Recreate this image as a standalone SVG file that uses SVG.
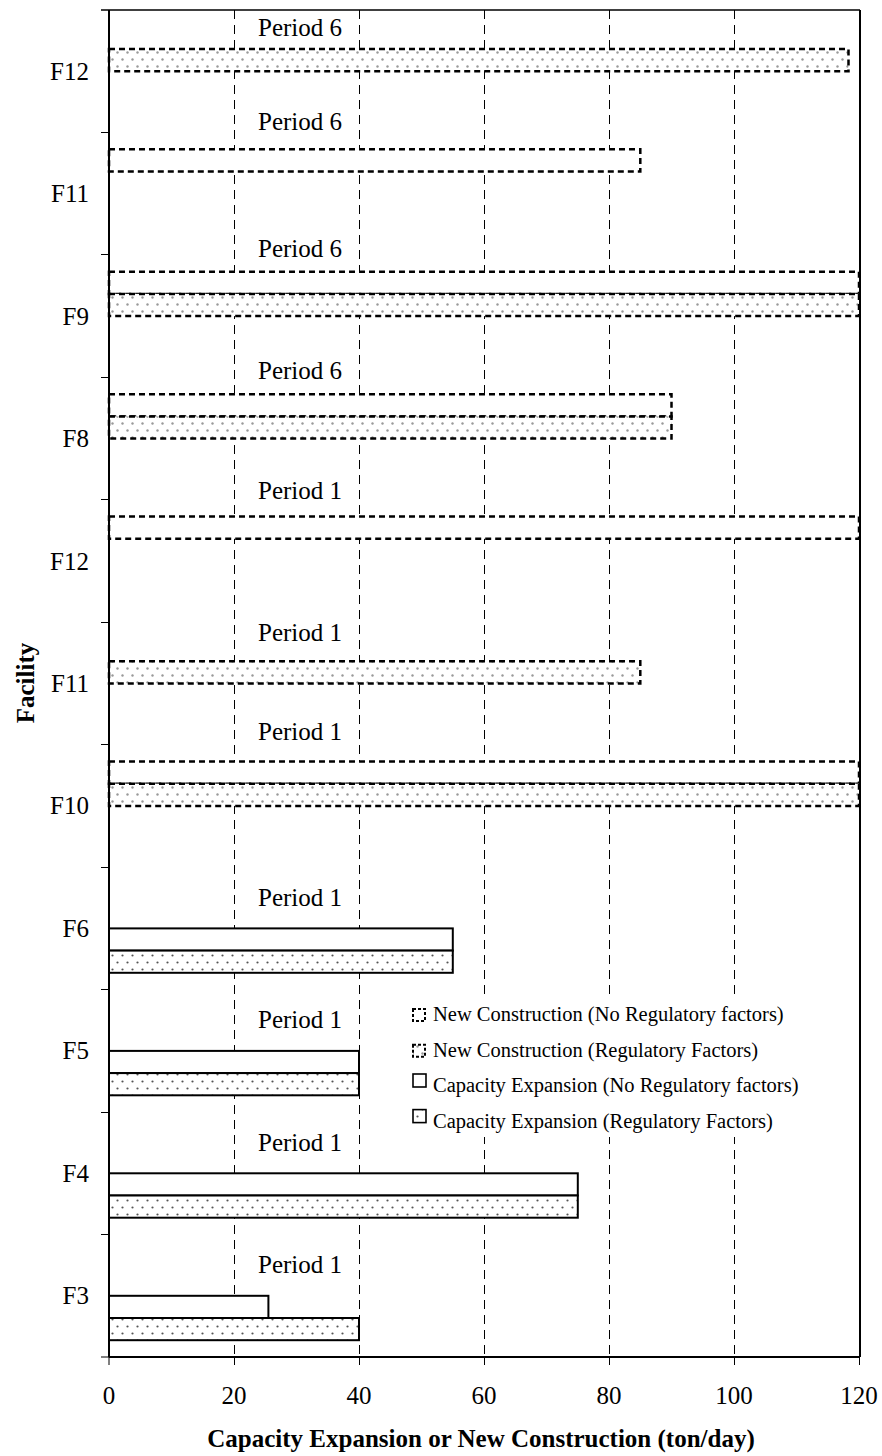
<svg xmlns="http://www.w3.org/2000/svg" width="882" height="1456" viewBox="0 0 882 1456">
<style>
text{font-family:"Liberation Serif","Times New Roman",serif;fill:#000}
.lab{font-size:25px}
.tick{font-size:25px;text-anchor:middle}
.cat{font-size:25px;text-anchor:end}
.leg{font-size:20.5px}
.title{font-size:25px;font-weight:bold}
.grid{stroke:#000;stroke-width:1;stroke-dasharray:9 6;fill:none}
.axis{stroke:#000;stroke-width:2;fill:none}
.tk{stroke:#000;stroke-width:1}
.ncn{fill:#fff;stroke:#000;stroke-width:2.5;stroke-dasharray:6 4}
.ncr{fill:url(#dotsLight);stroke:#000;stroke-width:2.5;stroke-dasharray:6 4}
.cen{fill:#fff;stroke:#000;stroke-width:2}
.cer{fill:url(#dotsDark);stroke:#000;stroke-width:2}
.lncn{fill:#fff;stroke:#000;stroke-width:2;stroke-dasharray:3 2}
.lncr{fill:url(#dotsLight);stroke:#000;stroke-width:2;stroke-dasharray:3 2}
.lcen{fill:#fff;stroke:#000;stroke-width:1.6}
.lcer{fill:url(#dotsDark);stroke:#000;stroke-width:1.6}
</style>
<defs>
<pattern id="dotsLight" patternUnits="userSpaceOnUse" width="10" height="14">
<rect width="10" height="14" fill="#fff"/>
<circle cx="2.5" cy="3.5" r="1.2" fill="#999"/>
<circle cx="7.5" cy="10.5" r="1.2" fill="#999"/>
</pattern>
<pattern id="dotsDark" patternUnits="userSpaceOnUse" width="10" height="14">
<rect width="10" height="14" fill="#fff"/>
<circle cx="2.5" cy="3.5" r="1.1" fill="#555"/>
<circle cx="7.5" cy="10.5" r="1.1" fill="#555"/>
</pattern>
</defs>
<rect width="882" height="1456" fill="#fff"/>

<g id="gridlines">
<line class="grid" x1="234.5" y1="10" x2="234.5" y2="1357"/>
<line class="grid" x1="359.5" y1="10" x2="359.5" y2="1357"/>
<line class="grid" x1="484.5" y1="10" x2="484.5" y2="1357"/>
<line class="grid" x1="609.5" y1="10" x2="609.5" y2="1357"/>
<line class="grid" x1="734.5" y1="10" x2="734.5" y2="1357"/>
</g>

<g id="bars">
<g id="cat-F12-p6">
<rect class="ncr" x="109" y="49" width="739.5" height="22.2"/>
</g>
<g id="cat-F11-p6">
<rect class="ncn" x="109" y="149.3" width="531.3" height="22.2"/>
</g>
<g id="cat-F9-p6">
<rect class="ncn" x="109" y="271.7" width="750" height="22.2"/>
<rect class="ncr" x="109" y="293.9" width="750" height="22.2"/>
</g>
<g id="cat-F8-p6">
<rect class="ncn" x="109" y="394.2" width="562.5" height="22.2"/>
<rect class="ncr" x="109" y="416.4" width="562.5" height="22.2"/>
</g>
<g id="cat-F12-p1">
<rect class="ncn" x="109" y="516.6" width="750" height="22.2"/>
</g>
<g id="cat-F11-p1">
<rect class="ncr" x="109" y="661.3" width="531.3" height="22.2"/>
</g>
<g id="cat-F10-p1">
<rect class="ncn" x="109" y="761.5" width="750" height="22.2"/>
<rect class="ncr" x="109" y="783.7" width="750" height="22.2"/>
</g>
<g id="cat-F6-p1">
<rect class="cen" x="109" y="928.4" width="343.8" height="22.2"/>
<rect class="cer" x="109" y="950.6" width="343.8" height="22.2"/>
</g>
<g id="cat-F5-p1">
<rect class="cen" x="109" y="1050.9" width="250" height="22.2"/>
<rect class="cer" x="109" y="1073.1" width="250" height="22.2"/>
</g>
<g id="cat-F4-p1">
<rect class="cen" x="109" y="1173.3" width="468.8" height="22.2"/>
<rect class="cer" x="109" y="1195.5" width="468.8" height="22.2"/>
</g>
<g id="cat-F3-p1">
<rect class="cen" x="109" y="1295.8" width="159.4" height="22.2"/>
<rect class="cer" x="109" y="1318" width="250" height="22.2"/>
</g>
</g>

<g id="axes">
<line class="axis" x1="109" y1="10" x2="109" y2="1357"/>
<line class="axis" x1="109" y1="1357" x2="860" y2="1357"/>
<line x1="101" y1="10" x2="860" y2="10" stroke="#000" stroke-width="1.5"/>
<line class="axis" x1="860" y1="10" x2="860" y2="1357"/>
<g id="yticks">
<line class="tk" x1="101" y1="132.5" x2="109" y2="132.5"/>
<line class="tk" x1="101" y1="254.5" x2="109" y2="254.5"/>
<line class="tk" x1="101" y1="377.5" x2="109" y2="377.5"/>
<line class="tk" x1="101" y1="499.5" x2="109" y2="499.5"/>
<line class="tk" x1="101" y1="622.5" x2="109" y2="622.5"/>
<line class="tk" x1="101" y1="744.5" x2="109" y2="744.5"/>
<line class="tk" x1="101" y1="867.5" x2="109" y2="867.5"/>
<line class="tk" x1="101" y1="989.5" x2="109" y2="989.5"/>
<line class="tk" x1="101" y1="1112.5" x2="109" y2="1112.5"/>
<line class="tk" x1="101" y1="1234.5" x2="109" y2="1234.5"/>
<line class="tk" x1="101" y1="1357" x2="109" y2="1357"/>
</g>
<g id="xticks">
<line class="tk" x1="109" y1="1357" x2="109" y2="1365"/>
<line class="tk" x1="234.5" y1="1357" x2="234.5" y2="1365"/>
<line class="tk" x1="359.5" y1="1357" x2="359.5" y2="1365"/>
<line class="tk" x1="484.5" y1="1357" x2="484.5" y2="1365"/>
<line class="tk" x1="609.5" y1="1357" x2="609.5" y2="1365"/>
<line class="tk" x1="734.5" y1="1357" x2="734.5" y2="1365"/>
<line class="tk" x1="859.5" y1="1357" x2="859.5" y2="1365"/>
</g>
</g>

<g id="xlabels">
<text class="tick" x="109" y="1404">0</text>
<text class="tick" x="234" y="1404">20</text>
<text class="tick" x="359" y="1404">40</text>
<text class="tick" x="484" y="1404">60</text>
<text class="tick" x="609" y="1404">80</text>
<text class="tick" x="734" y="1404">100</text>
<text class="tick" x="859" y="1404">120</text>
</g>

<g id="ylabels">
<text class="cat" x="89" y="79.7">F12</text>
<text class="cat" x="89" y="202.2">F11</text>
<text class="cat" x="89" y="324.6">F9</text>
<text class="cat" x="89" y="447.1">F8</text>
<text class="cat" x="89" y="569.5">F12</text>
<text class="cat" x="89" y="692">F11</text>
<text class="cat" x="89" y="814.4">F10</text>
<text class="cat" x="89" y="936.9">F6</text>
<text class="cat" x="89" y="1059.4">F5</text>
<text class="cat" x="89" y="1181.8">F4</text>
<text class="cat" x="89" y="1304.3">F3</text>
</g>

<g id="period-labels">
<text class="lab" x="258" y="36">Period 6</text>
<text class="lab" x="258" y="130">Period 6</text>
<text class="lab" x="258" y="257">Period 6</text>
<text class="lab" x="258" y="379">Period 6</text>
<text class="lab" x="258" y="499">Period 1</text>
<text class="lab" x="258" y="641">Period 1</text>
<text class="lab" x="258" y="740">Period 1</text>
<text class="lab" x="258" y="906">Period 1</text>
<text class="lab" x="258" y="1028">Period 1</text>
<text class="lab" x="258" y="1151">Period 1</text>
<text class="lab" x="258" y="1273">Period 1</text>
</g>

<g id="legend">
<rect x="406" y="999" width="410" height="138" fill="#fff"/>
<rect class="lncn" x="413" y="1009" width="12" height="12"/>
<text class="leg" x="433" y="1021">New Construction (No Regulatory factors)</text>
<rect class="lncr" x="413" y="1044.7" width="12" height="12"/>
<text class="leg" x="433" y="1056.7">New Construction (Regulatory Factors)</text>
<rect class="lcen" x="413" y="1074" width="13" height="13"/>
<text class="leg" x="433" y="1092.4">Capacity Expansion (No Regulatory factors)</text>
<rect class="lcer" x="413" y="1109.6" width="13" height="13"/>
<text class="leg" x="433" y="1128">Capacity Expansion (Regulatory Factors)</text>
</g>

<g id="axis-titles">
<text class="title" x="481" y="1447" text-anchor="middle">Capacity Expansion or New Construction (ton/day)</text>
<text class="title" transform="translate(34,683) rotate(-90)" text-anchor="middle">Facility</text>
</g>
</svg>
